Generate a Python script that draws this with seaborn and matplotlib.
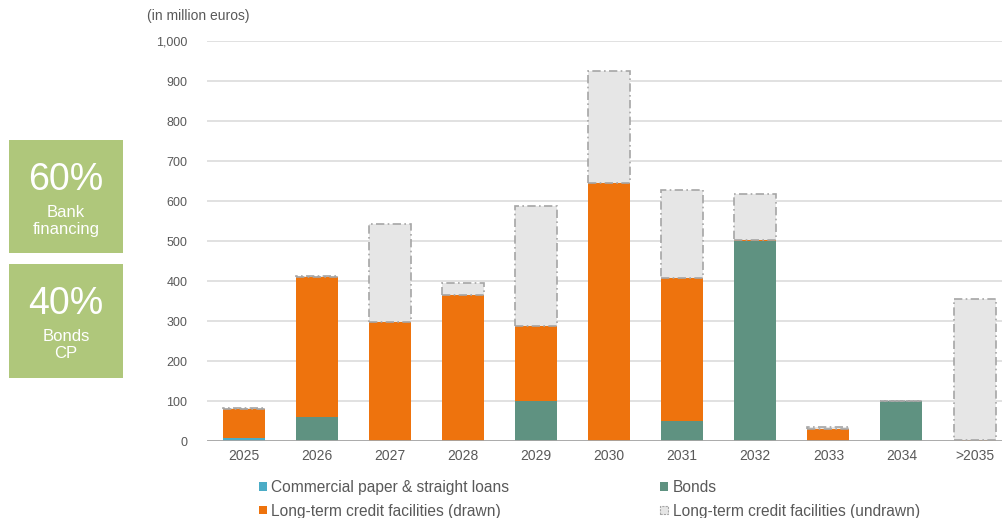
import matplotlib
matplotlib.use("Agg")
import matplotlib.pyplot as plt
from matplotlib.patches import Patch, Rectangle
import seaborn as sns
import numpy as np

years = ["2025", "2026", "2027", "2028", "2029", "2030", "2031", "2032", "2033", "2034", ">2035"]
cp = [7, 0, 0, 0, 0, 0, 0, 0, 0, 0, 0]
bonds = [0, 60, 0, 0, 100, 0, 50, 500, 0, 100, 0]
drawn = [72, 350, 297, 365, 188, 645, 358, 3, 29, 1, 3]
undrawn = [3, 3, 245, 31, 299, 281, 219, 114, 6, 0, 351]

series_labels = ["Commercial paper & straight loans", "Bonds",
                 "Long-term credit facilities (drawn)", "Long-term credit facilities (undrawn)"]
y_ticks = [0, 100, 200, 300, 400, 500, 600, 700, 800, 900, 1000]
box_texts = [("60%", "Bank\nfinancing"), ("40%", "Bonds\nCP")]

C_CP = "#4BACC6"
C_BONDS = "#5F9281"
C_DRAWN = "#EE730D"
C_UNDRAWN = "#E6E6E6"
C_EDGE = "#A6A6A6"
C_TEXT = "#595959"
C_BOX = "#AFC77B"

sns.set_style("white")
plt.rcParams["font.family"] = ["Liberation Sans", "DejaVu Sans"]

fig = plt.figure(figsize=(10.03, 5.18), dpi=100)
ax = fig.add_axes([207 / 1003, 77 / 518, 796 / 1003, 400 / 518])

cp_a = np.array(cp, float)
bonds_a = np.array(bonds, float)
drawn_a = np.array(drawn, float)
undrawn_a = np.array(undrawn, float)

W = 0.575
sns.barplot(x=years, y=cp_a, order=years, color=C_CP, width=W, ax=ax,
            linewidth=0, saturation=1, zorder=3)
sns.barplot(x=years, y=bonds_a, bottom=cp_a, order=years, color=C_BONDS, width=W, ax=ax,
            linewidth=0, saturation=1, zorder=3)
sns.barplot(x=years, y=drawn_a, bottom=cp_a + bonds_a, order=years, color=C_DRAWN, width=W, ax=ax,
            linewidth=0, saturation=1, zorder=3)
sns.barplot(x=years, y=undrawn_a, bottom=cp_a + bonds_a + drawn_a, order=years, color=C_UNDRAWN,
            width=W, ax=ax, edgecolor=C_EDGE, linewidth=1.2, linestyle=(0, (5, 2, 1, 2)),
            saturation=1, zorder=3)

ax.set_xlim(-0.5, -0.5 + 796 / 73.1)
ax.set_ylim(0, 1000)
ax.set_yticks(y_ticks)
ax.set_yticklabels([f"{v:,}" for v in y_ticks])
ax.yaxis.grid(True, color="#D9D9D9", linewidth=1.1, zorder=0)
ax.set_axisbelow(True)
ax.axhline(0, color=C_EDGE, linewidth=2, zorder=4)
for s in ax.spines.values():
    s.set_visible(False)
ax.tick_params(axis="both", length=0, colors=C_TEXT)
ax.tick_params(axis="y", labelsize=9, pad=14)
ax.tick_params(axis="x", labelsize=10, pad=6)
ax.set_xlabel("")
ax.set_ylabel("")

fig.text(147 / 1003, 1 - 16 / 518, "(in million euros)", fontsize=10, color=C_TEXT,
         ha="left", va="center")

# left summary boxes
boxes = [(9, 140, 114, 113), (9, 264, 114, 114)]
for (bx, by, bw, bh), (big, small) in zip(boxes, box_texts):
    fig.patches.append(Rectangle((bx / 1003, 1 - (by + bh) / 518), bw / 1003, bh / 518,
                                 transform=fig.transFigure, facecolor=C_BOX, edgecolor="none"))
    cx = (bx + bw / 2) / 1003
    fig.text(cx, 1 - (by + 40) / 518, big, fontsize=27, color="white", ha="center", va="center")
    fig.text(cx, 1 - (by + 81) / 518, small, fontsize=12, color="white", ha="center",
             va="center", linespacing=1.1)

handles = [
    Patch(facecolor=C_CP, edgecolor="none", label=series_labels[0]),
    Patch(facecolor=C_DRAWN, edgecolor="none", label=series_labels[2]),
    Patch(facecolor=C_BONDS, edgecolor="none", label=series_labels[1]),
    Patch(facecolor=C_UNDRAWN, edgecolor=C_EDGE, linestyle=(0, (2, 1)), linewidth=0.8,
          label=series_labels[3]),
]
leg = fig.legend(handles=handles, ncol=2, loc="upper left",
                 bbox_to_anchor=(259 / 1003, 1 - 480 / 518), frameon=False,
                 fontsize=11.2, handlelength=0.5, handleheight=0.5, handletextpad=0.3,
                 columnspacing=9.7, labelspacing=0.55, borderpad=0, borderaxespad=0)
for t in leg.get_texts():
    t.set_color(C_TEXT)

fig.savefig("out.png", dpi=100)
